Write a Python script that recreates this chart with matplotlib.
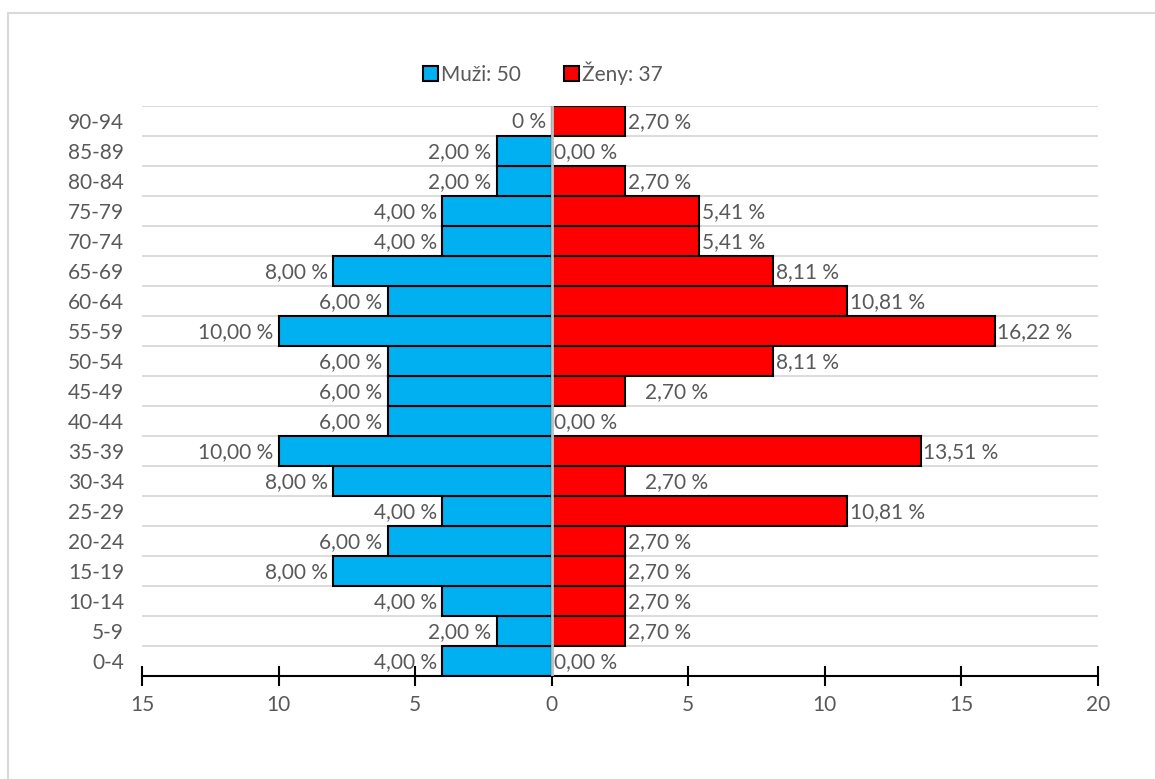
import matplotlib.pyplot as plt
from matplotlib.patches import Rectangle
from matplotlib.ticker import FixedLocator

# age groups, bottom to top
vekove_skupiny = ["0-4", "5-9", "10-14", "15-19", "20-24", "25-29", "30-34", "35-39",
                  "40-44", "45-49", "50-54", "55-59", "60-64", "65-69", "70-74",
                  "75-79", "80-84", "85-89", "90-94"]
muzi = [4, 2, 4, 8, 6, 4, 8, 10, 6, 6, 6, 10, 6, 8, 4, 4, 2, 2, 0]
zeny = [0, 2.70, 2.70, 2.70, 2.70, 10.81, 2.70, 13.51, 0, 2.70, 8.11, 16.22,
        10.81, 8.11, 5.41, 5.41, 2.70, 0, 2.70]
pocet_muzi = 50
pocet_zeny = 37
x_ticks = [-15, -10, -5, 0, 5, 10, 15, 20]

# labels that were dragged a bit to the right in the original
posunute = {"30-34": 0.6, "45-49": 0.6}

TEXT = "#595959"
BLUE = "#00B0F0"
RED = "#FF0000"
FS = 15

plt.rcParams['font.family'] = ['Lato', 'DejaVu Sans']

fig = plt.figure(figsize=(11.55, 7.79), dpi=100)
# outer chart border
fig.patches.append(Rectangle((8 / 1155, -0.1), 1.2, 1 - 13 / 779 + 0.1, transform=fig.transFigure,
                             fill=False, edgecolor="#d9d9d9", linewidth=1.5))

ax = fig.add_axes([142 / 1155, 1 - 676 / 779, (1098 - 142) / 1155, (676 - 106) / 779])

y = list(range(len(vekove_skupiny)))
neg_muzi = [-v for v in muzi]

# horizontal gridlines at category boundaries
for b in range(1, len(vekove_skupiny) + 1):
    ax.axhline(b - 0.5, color="#d9d9d9", linewidth=1.3, zorder=0)

bm = ax.barh(y, neg_muzi, height=1.0, color=BLUE, edgecolor="black", linewidth=1.5,
             label=f"Muži: {pocet_muzi}", zorder=2)
bz = ax.barh(y, zeny, height=1.0, color=RED, edgecolor="black", linewidth=1.5,
             label=f"Ženy: {pocet_zeny}", zorder=2)

ax.axvline(0, color="#bfbfbf", linewidth=2, zorder=3)

for yi, v in zip(y, muzi):
    txt = "0 %" if v == 0 else f"{v:.2f} %".replace(".", ",")
    ax.text(-v - 0.2, yi - 0.05, txt, ha="right", va="center", fontsize=FS, color=TEXT, zorder=4)
for yi, v, sk in zip(y, zeny, vekove_skupiny):
    txt = f"{v:.2f} %".replace(".", ",")
    ax.text(v + 0.1 + posunute.get(sk, 0), yi - 0.05, txt, ha="left", va="center",
            fontsize=FS, color=TEXT, zorder=4)

ax.set_xlim(-15, 20)
ax.set_ylim(-0.5, len(vekove_skupiny) - 0.5)
ax.xaxis.set_major_locator(FixedLocator(x_ticks))
ax.set_xticklabels([str(abs(t)) for t in x_ticks])
ax.set_yticks(y)
ax.set_yticklabels(vekove_skupiny)

for s in ["top", "right", "left"]:
    ax.spines[s].set_visible(False)
ax.spines["bottom"].set_color("black")
ax.spines["bottom"].set_linewidth(1.5)
ax.tick_params(axis="x", direction="inout", length=15, width=1.5, colors="black",
               labelcolor=TEXT, labelsize=FS, pad=6)
ax.tick_params(axis="y", length=0, labelcolor=TEXT, labelsize=FS, pad=13)

fig.legend(handles=[bm, bz], loc="center left", bbox_to_anchor=(423 / 1155, 1 - 73 / 779),
           bbox_transform=fig.transFigure, ncol=2, frameon=False, fontsize=FS,
           labelcolor=TEXT, handlelength=0.7, handleheight=0.7, handletextpad=0.15,
           columnspacing=2.1, borderpad=0, borderaxespad=0)

plt.savefig("out.png", dpi=100)
